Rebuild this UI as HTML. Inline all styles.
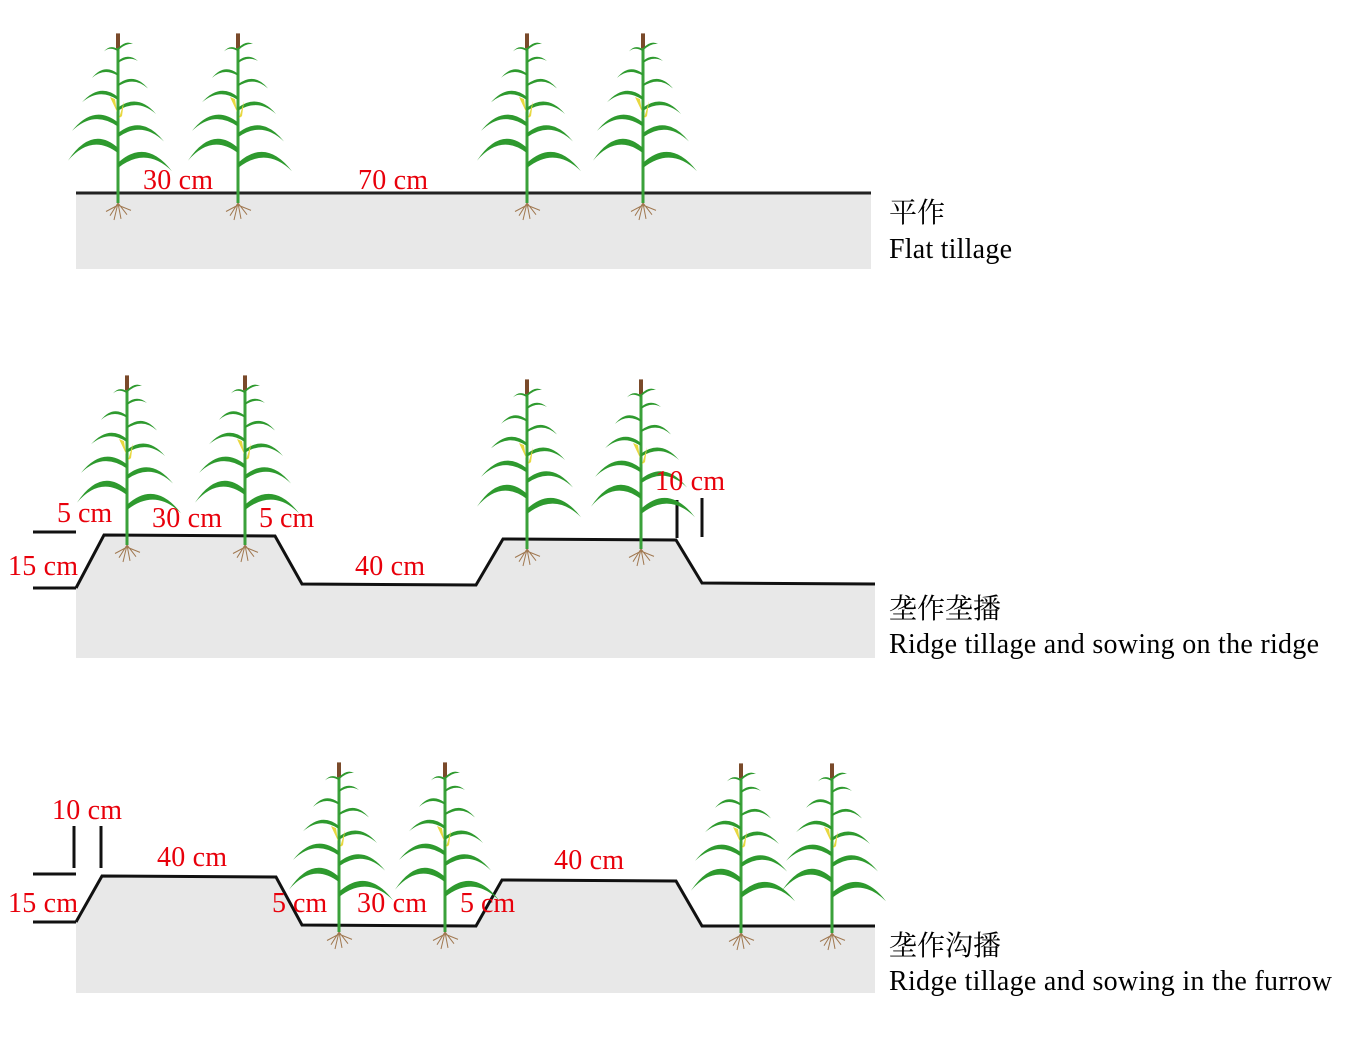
<!DOCTYPE html>
<html><head><meta charset="utf-8"><style>
html,body{margin:0;padding:0;background:#fff;}
svg{display:block;}
.t{font-family:"Liberation Serif","Noto Serif CJK SC",serif;font-size:28px;fill:#e8000b;}
.k{font-family:"Liberation Serif","Noto Serif CJK SC",serif;font-size:28px;fill:#000;}
</style></head><body>
<svg width="1362" height="1051" viewBox="0 0 1362 1051" xmlns="http://www.w3.org/2000/svg">
<defs>
<g id="p">
 <g transform="scale(1,1.06)">
 <g stroke="#a07850" stroke-width="1" fill="none">
  <path d="M0,0 L-8,12 M0,0 L-4,16 M0,0 L3,15 M0,0 L9,11 M0,2 L-12,8 M0,2 L13,7"/>
 </g>
 <line x1="0" y1="0" x2="0" y2="-148" stroke="#3aa13a" stroke-width="3"/>
 <rect x="-2" y="-160" width="4" height="14" fill="#7a4a2a"/>
 <g fill="#2e9a2e">
  <path d="M0,-38 Q28,-62 54,-30 Q28,-54 0,-33Z"/>
  <path d="M0,-52 Q-26,-74 -50,-40 Q-26,-66 0,-47Z"/>
  <path d="M0,-66 Q24,-84 46,-58 Q24,-78 0,-62Z"/>
  <path d="M0,-76 Q-24,-94 -46,-68 Q-24,-88 0,-72Z"/>
  <path d="M0,-90 Q20,-104 38,-84 Q20,-99 0,-87Z"/>
  <path d="M0,-100 Q-18,-114 -36,-95 Q-18,-109 0,-97Z"/>
  <path d="M0,-112 Q16,-124 30,-108 Q16,-120 0,-110Z"/>
  <path d="M0,-122 Q-14,-132 -26,-118 Q-14,-128 0,-120Z"/>
  <path d="M0,-134 Q10,-142 20,-134 Q10,-139 0,-132Z"/>
  <path d="M0,-145 Q-8,-150 -14,-143 Q-8,-148 0,-143Z"/>
  <path d="M0,-146 Q8,-154 15,-150 Q8,-151 0,-144Z"/>
 </g>
 <path d="M-1,-86 L-8,-100 L-3,-98Z" fill="#e8d840"/>
 <path d="M1,-80 L6,-96 L4,-82Z" fill="#e8d840"/>
 </g>
</g>
</defs>

<!-- Panel 1 -->
<rect x="76" y="193" width="795" height="76" fill="#e8e8e8"/>
<line x1="76" y1="193" x2="871" y2="193" stroke="#222" stroke-width="3"/>
<use href="#p" x="118" y="203"/>
<use href="#p" x="238" y="203"/>
<use href="#p" x="527" y="203"/>
<use href="#p" x="643" y="203"/>
<text class="t" x="143" y="189" textLength="70">30 cm</text>
<text class="t" x="358" y="189" textLength="70">70 cm</text>
<text class="k" x="889" y="222">平作</text>
<text class="k" x="889" y="258" textLength="123">Flat tillage</text>

<!-- Panel 2 -->
<path d="M76,588 L104,535 L275,536 L302,584 L476,585 L503,539 L676,540 L702,583 L875,584 L875,658 L76,658Z" fill="#e8e8e8"/>
<path d="M76,588 L104,535 L275,536 L302,584 L476,585 L503,539 L676,540 L702,583 L875,584" fill="none" stroke="#111" stroke-width="3"/>
<line x1="33" y1="532" x2="76" y2="532" stroke="#111" stroke-width="3"/>
<line x1="33" y1="588" x2="76" y2="588" stroke="#111" stroke-width="3"/>
<line x1="677" y1="500" x2="677" y2="538" stroke="#111" stroke-width="3"/>
<line x1="702" y1="498" x2="702" y2="537" stroke="#111" stroke-width="3"/>
<use href="#p" x="127" y="545"/>
<use href="#p" x="245" y="545"/>
<use href="#p" x="527" y="549"/>
<use href="#p" x="641" y="549"/>
<text class="t" x="57" y="522">5 cm</text>
<text class="t" x="152" y="527" textLength="70">30 cm</text>
<text class="t" x="259" y="527">5 cm</text>
<text class="t" x="355" y="575" textLength="70">40 cm</text>
<text class="t" x="655" y="490" textLength="70">10 cm</text>
<text class="t" x="8" y="575" textLength="70">15 cm</text>
<text class="k" x="889" y="618">垄作垄播</text>
<text class="k" x="889" y="653" textLength="430">Ridge tillage and sowing on the ridge</text>

<!-- Panel 3 -->
<path d="M76,922 L102,876 L276,877 L302,925 L476,926 L502,880 L676,881 L702,926 L875,926 L875,993 L76,993Z" fill="#e8e8e8"/>
<path d="M76,922 L102,876 L276,877 L302,925 L476,926 L502,880 L676,881 L702,926 L875,926" fill="none" stroke="#111" stroke-width="3"/>
<line x1="33" y1="874" x2="76" y2="874" stroke="#111" stroke-width="3"/>
<line x1="33" y1="922" x2="76" y2="922" stroke="#111" stroke-width="3"/>
<line x1="74" y1="826" x2="74" y2="868" stroke="#111" stroke-width="3"/>
<line x1="101" y1="826" x2="101" y2="868" stroke="#111" stroke-width="3"/>
<use href="#p" x="339" y="932"/>
<use href="#p" x="445" y="932"/>
<use href="#p" x="741" y="933"/>
<use href="#p" x="832" y="933"/>
<text class="t" x="52" y="819" textLength="70">10 cm</text>
<text class="t" x="157" y="866" textLength="70">40 cm</text>
<text class="t" x="8" y="912" textLength="70">15 cm</text>
<text class="t" x="272" y="912">5 cm</text>
<text class="t" x="357" y="912" textLength="70">30 cm</text>
<text class="t" x="460" y="912">5 cm</text>
<text class="t" x="554" y="869" textLength="70">40 cm</text>
<text class="k" x="889" y="955">垄作沟播</text>
<text class="k" x="889" y="990" textLength="443">Ridge tillage and sowing in the furrow</text>
</svg>
</body></html>
